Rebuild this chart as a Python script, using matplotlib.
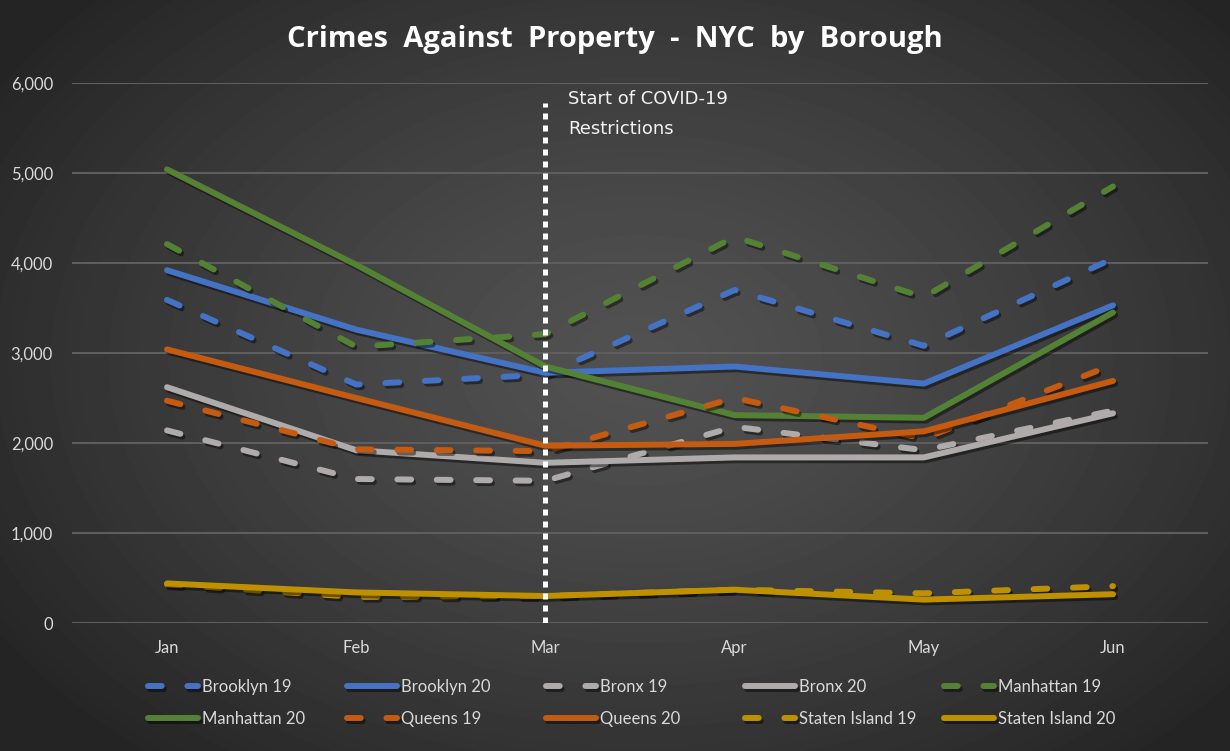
import numpy as np
import matplotlib
matplotlib.use('Agg')
import matplotlib.pyplot as plt
import matplotlib.patheffects as pe

months = ['Jan', 'Feb', 'Mar', 'Apr', 'May', 'Jun']
brooklyn_19 = [3590, 2650, 2760, 3700, 3080, 4050]
brooklyn_20 = [3920, 3260, 2780, 2850, 2660, 3530]
bronx_19 = [2140, 1600, 1580, 2180, 1920, 2360]
bronx_20 = [2620, 1920, 1780, 1840, 1840, 2330]
manhattan_19 = [4210, 3070, 3210, 4290, 3620, 4850]
manhattan_20 = [5040, 3980, 2850, 2310, 2280, 3450]
queens_19 = [2470, 1930, 1910, 2500, 2050, 2870]
queens_20 = [3040, 2500, 1970, 1990, 2130, 2690]
staten_19 = [430, 290, 300, 370, 330, 410]
staten_20 = [440, 340, 300, 370, 260, 320]

covid_month = 'Mar'
covid_line_top = 5780
yticks = [0, 1000, 2000, 3000, 4000, 5000, 6000]

series = [
    ('Brooklyn 19', brooklyn_19, '#4472C4', True),
    ('Brooklyn 20', brooklyn_20, '#4472C4', False),
    ('Bronx 19', bronx_19, '#B0ABAB', True),
    ('Bronx 20', bronx_20, '#B0ABAB', False),
    ('Manhattan 19', manhattan_19, '#548235', True),
    ('Manhattan 20', manhattan_20, '#548235', False),
    ('Queens 19', queens_19, '#C55A11', True),
    ('Queens 20', queens_20, '#C55A11', False),
    ('Staten Island 19', staten_19, '#BF9000', True),
    ('Staten Island 20', staten_20, '#BF9000', False),
]

fig = plt.figure(figsize=(12.3, 7.51), dpi=100)

# radial gradient background
bg = fig.add_axes([0, 0, 1, 1], zorder=-10)
yy, xx = np.mgrid[0:751, 0:1230]
r = np.sqrt(((xx - 640) / 900.0) ** 2 + ((yy - 360) / 620.0) ** 2)
r = np.clip(r / 0.85, 0, 1)
shade = 0.32 - (0.32 - 0.145) * r ** 1.3
bg.imshow(shade, cmap='gray', vmin=0, vmax=1, aspect='auto', interpolation='bilinear')
bg.axis('off')

ax = fig.add_axes([0.0589, 0.1704, 0.9229, 0.7191])
ax.set_facecolor('none')
x = np.arange(len(months))
shadow = [pe.SimpleLineShadow(offset=(1.5, -2), alpha=0.45, shadow_color='black'), pe.Normal()]

handles = []
for name, vals, col, dashed in series:
    ln, = ax.plot(x, vals, color=col, lw=4.3, solid_capstyle='round', dash_capstyle='round',
                  solid_joinstyle='round', label=name, path_effects=shadow)
    if dashed:
        ln.set_dashes((2.3, 4.3))
    handles.append(ln)

ci = months.index(covid_month)
ax.plot([ci, ci], [0, covid_line_top], color='white', lw=3.6, dashes=(1.2, 1.2),
        dash_capstyle='butt', zorder=5)
ax.text(ci + 0.12, 5655, 'Start of COVID-19\nRestrictions', color='#F2F2F2', fontsize=13,
        family='DejaVu Sans', va='center', ha='left', linespacing=1.8)

ax.set_xlim(-0.5, len(months) - 0.5)
ax.set_ylim(0, 6000)
ax.set_yticks(yticks)
ax.set_yticklabels([f'{v:,}' for v in yticks])
ax.set_xticks(x)
ax.set_xticklabels(months)
ax.grid(axis='y', color='#5E5E5E', lw=1.5)
ax.set_axisbelow(True)
for s in ax.spines.values():
    s.set_visible(False)
ax.tick_params(length=0, colors='#D9D9D9', labelsize=12, pad=14)
ax.tick_params(axis='x', pad=12)
for lab in ax.get_xticklabels() + ax.get_yticklabels():
    lab.set_family('Lato')

fig.text(0.5, 0.947, 'Crimes  Against  Property  -  NYC  by  Borough', ha='center', va='center',
         color='white', fontsize=21, fontweight='bold', family='Open Sans')

# legend: 5 equal-width columns, filled row by row like Excel
for j in range(5):
    idx = [j, j + 5]
    leg = fig.legend([handles[i] for i in idx], [series[i][0] for i in idx],
                     loc='center left', bbox_to_anchor=((148 + 199 * j) / 1230, 0.064),
                     ncol=1, frameon=False, borderpad=0, borderaxespad=0,
                     handlelength=3.0, handletextpad=0.25, labelspacing=0.95,
                     prop={'family': 'Lato', 'size': 12})
    for t in leg.get_texts():
        t.set_color('#D9D9D9')

fig.savefig('out.png', dpi=100)
